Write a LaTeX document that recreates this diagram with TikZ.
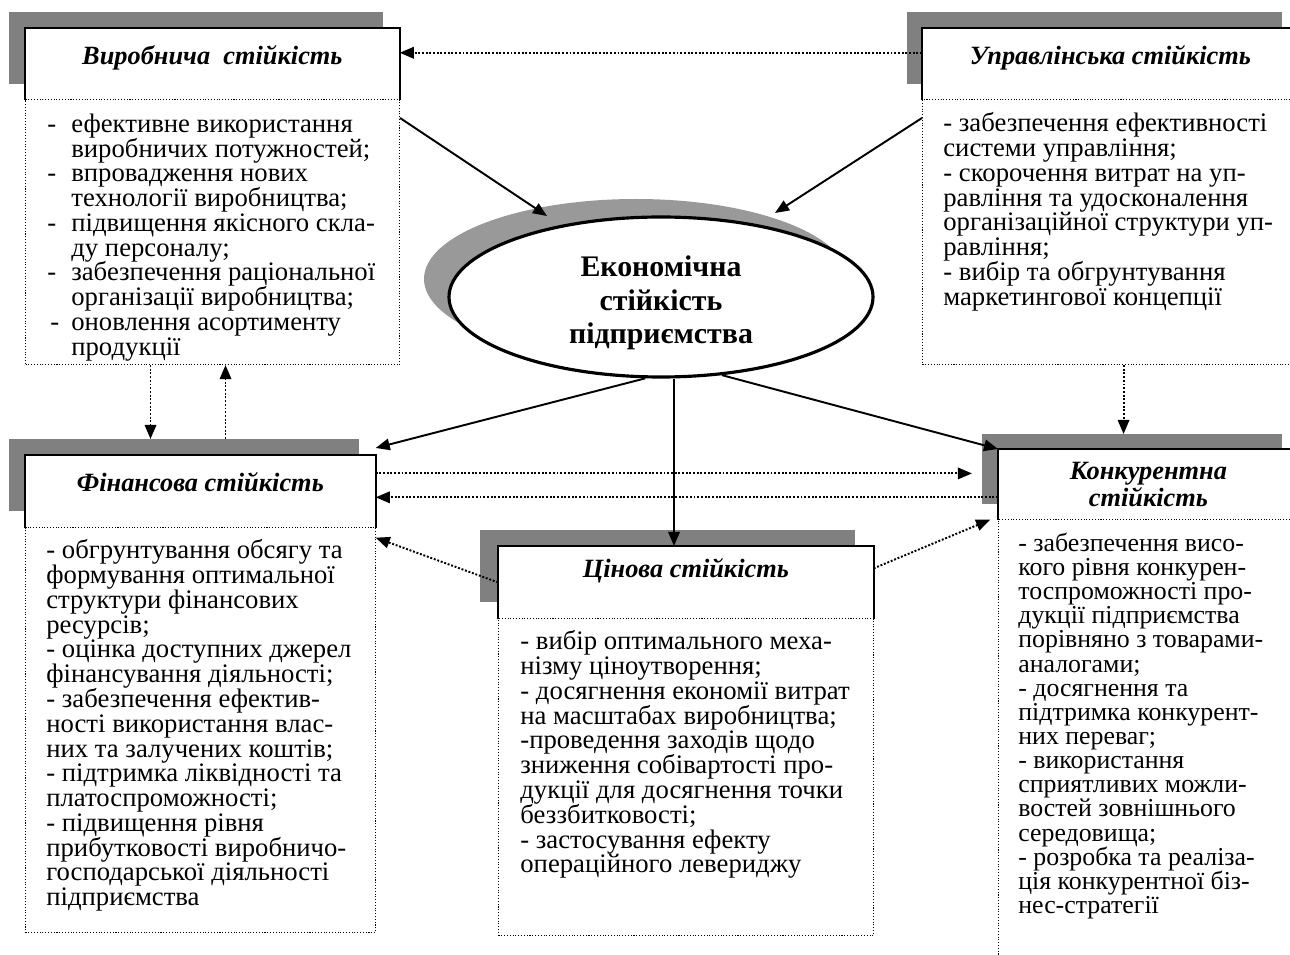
\documentclass[tikz,border=0pt]{standalone}
\usepackage{fontspec}
\setmainfont{Liberation Serif}
\usetikzlibrary{arrows.meta,positioning,shapes.geometric}
\newdimen\unitpx \unitpx=0.02cm
\newcommand\bodyfont[2]{\fontsize{#1}{#2}\selectfont\lineskiplimit-20pt\relax}
\definecolor{shadegray}{RGB}{128,128,128}
\definecolor{ovalgray}{RGB}{153,153,153}
\tikzset{
  shadebox/.style={fill=shadegray, inner sep=0pt, anchor=north west},
  titlebox/.style={fill=white, inner sep=0pt, anchor=north west, font=\fontsize{15}{15}\selectfont\bfseries\itshape, text height=20.5pt, text depth=19.9pt},
  frame/.style={line width=1pt},
  bodybox/.style={draw, densely dotted, line width=0.6pt, inner sep=0pt, anchor=north west},
  bodytext/.style={inner sep=0pt, anchor=north west, align=left, font=\bodyfont{15.2}{14.1}, execute at begin node={\rule{0pt}{10pt}}},
  solidarrow/.style={-{Triangle[length=8pt,width=6.5pt]}, line width=1.1pt},
  dotarrow/.style={-{Triangle[length=8pt,width=6.5pt]}, line width=1.1pt, densely dotted},
}

\begin{document}
\begin{tikzpicture}[x=0.02cm,y=-0.02cm]
\useasboundingbox (0,0) rectangle (1290,955);
\clip (0,0) rectangle (1290,955);

% Виробнича стійкість
\node[shadebox, minimum width=374\unitpx, minimum height=72\unitpx] (vyrs) at (9,12) {};
\node[bodybox, minimum width=374\unitpx, minimum height=265\unitpx] (vyrb) at (25,99) {};
\node[titlebox, minimum width=374\unitpx, minimum height=71\unitpx] (vyr) at (25,28) {Виробнича\ \ стійкість};
\draw[frame] (vyr.south west) |- (vyr.north east) -- (vyr.south east);
\node[bodytext] (vyrt) at (47,113.4) {\makebox[24\unitpx][l]{-}ефективне використання\\
\hspace*{24\unitpx}виробничих потужностей;\\
\makebox[24\unitpx][l]{-}впровадження нових\\
\hspace*{24\unitpx}технології виробництва;\\
\makebox[24\unitpx][l]{-}підвищення якісного скла-\\
\hspace*{24\unitpx}ду персоналу;\\
\makebox[24\unitpx][l]{-}забезпечення раціональної\\
\hspace*{24\unitpx}організації виробництва;\\
\hspace*{3\unitpx}\makebox[21\unitpx][l]{-}оновлення асортименту\\
\hspace*{24\unitpx}продукції};

% Управлінська стійкість
\node[shadebox, minimum width=375\unitpx, minimum height=72\unitpx] (uprs) at (907,12) {};
\node[bodybox, minimum width=376\unitpx, minimum height=265\unitpx] (uprb) at (922,99) {};
\node[titlebox, minimum width=376\unitpx, minimum height=71\unitpx] (upr) at (922,28) {Управлінська стійкість};
\draw[frame] (upr.south west) |- (upr.north east) -- (upr.south east);
\node[bodytext] (uprt) at (943,112.4) {- забезпечення ефективності\\
системи управління;\\
- скорочення витрат на уп-\\
равління та удосконалення\\
організаційної структури уп-\\
равління;\\
- вибір та обгрунтування\\
маркетингової концепції};

% Фінансова стійкість
\node[shadebox, minimum width=350\unitpx, minimum height=72\unitpx] (fins) at (9,439) {};
\node[bodybox, minimum width=350\unitpx, minimum height=405\unitpx] (finb) at (25,527) {};
\node[titlebox, minimum width=350\unitpx, minimum height=72\unitpx] (fin) at (25,455) {Фінансова стійкість};
\draw[frame] (fin.south west) |- (fin.north east) -- (fin.south east);
\node[bodytext] (fint) at (46,539.4) {- обгрунтування обсягу та\\
формування оптимальної\\
структури фінансових\\
ресурсів;\\
- оцінка доступних джерел\\
фінансування діяльності;\\
- забезпечення ефектив-\\
ності використання влас-\\
них та залучених коштів;\\
- підтримка ліквідності та\\
платоспроможності;\\
- підвищення рівня\\
прибутковості виробничо-\\
господарської діяльності\\
підприємства};

% Цінова стійкість
\node[shadebox, minimum width=375\unitpx, minimum height=72\unitpx] (tsins) at (480,530) {};
\node[bodybox, minimum width=375\unitpx, minimum height=317\unitpx] (tsinb) at (498,618) {};
\node[titlebox, minimum width=375\unitpx, minimum height=72\unitpx, text height=18pt, text depth=23pt] (tsin) at (498,546) {Цінова стійкість};
\draw[frame] (tsin.south west) |- (tsin.north east) -- (tsin.south east);
\node[bodytext] (tsint) at (520,630.4) {- вибір оптимального меха-\\
нізму ціноутворення;\\
- досягнення економії витрат\\
на масштабах виробництва;\\
-проведення заходів щодо\\
зниження собівартості про-\\
дукції для досягнення точки\\
беззбитковості;\\
- застосування ефекту\\
операційного левериджу};

% Конкурентна стійкість
\node[shadebox, minimum width=300\unitpx, minimum height=70\unitpx] (konks) at (982,434) {};
\node[bodybox, minimum width=300\unitpx, minimum height=470\unitpx] (konkb) at (998,519) {};
\node[titlebox, minimum width=300\unitpx, minimum height=70\unitpx, text height=, text depth=, align=center, font=\fontsize{15}{13}\selectfont\bfseries\itshape] (konk) at (998,449) {Конкурентна\\стійкість};
\draw[frame] (konk.south west) |- (konk.north east) -- (konk.south east);
\node[bodytext, font=\bodyfont{14.7}{13.75}] (konkt) at (1018,532.4) {- забезпечення висо-\\
кого рівня конкурен-\\
тоспроможності про-\\
дукції підприємства\\
порівняно з товарами-\\
аналогами;\\
- досягнення та\\
підтримка конкурент-\\
них переваг;\\
- використання\\
сприятливих можли-\\
востей зовнішнього\\
середовища;\\
- розробка та реаліза-\\
ція конкурентної біз-\\
нес-стратегії};

% Економічна стійкість підприємства
\node[ellipse, fill=ovalgray, inner sep=0pt, minimum width=424\unitpx, minimum height=160\unitpx] (ecos) at (636,279) {};
\node[ellipse, draw, line width=1.8pt, fill=white, inner sep=0pt, minimum width=424\unitpx, minimum height=160\unitpx] (eco) at (661,297) {};
\node[align=center, inner sep=0pt, font=\fontsize{17}{19}\selectfont\bfseries] (ecot) at ([yshift=-3.4pt]eco.center) {Економічна\\стійкість\\підприємства};

% connectors
\coordinate (va) at ([xshift=-35.3pt]vyrb.south);
\coordinate (vb) at ([xshift=7.4pt]vyrb.south);
\coordinate (ua) at ([xshift=7.4pt]uprb.south);
\coordinate (em) at ([xshift=7.4pt]eco.south);
\coordinate (fa) at ([yshift=10.2pt]fin.east);
\coordinate (fb) at ([yshift=-3.4pt]fin.east);

\draw[dotarrow] ([yshift=6.3pt]upr.west) -- ([yshift=6.3pt]vyr.east);
\draw[solidarrow] ([yshift=-10.8pt]vyrb.north east) -- ([shift={(-114,-81)}]eco.center);
\draw[solidarrow] ([yshift=-10.8pt]uprb.north west) -- ([shift={(114,-84)}]eco.center);
\draw[dotarrow] (va) -- (va |- fins.north);
\draw[dotarrow] (vb |- fins.north) -- (vb);
\draw[dotarrow] (ua) -- (ua |- konks.north);
\draw[solidarrow] (eco.259) -- ([yshift=4pt]fin.north east);
\draw[solidarrow] (em) -- (em |- tsin.north);
\draw[solidarrow] (eco.308) -- (konk.north west);
\draw[dotarrow, shorten >=5.7pt] (fa) -- (fa -| konks.west);
\draw[dotarrow] (fb -| konk.west) -- (fb);
\draw[dotarrow] (tsin.west) -- ([yshift=-5.7pt]fin.south east);
\draw[dotarrow] ([yshift=8pt]tsin.east) -- ([xshift=-4.5pt]konk.south west);
\end{tikzpicture}
\end{document}
